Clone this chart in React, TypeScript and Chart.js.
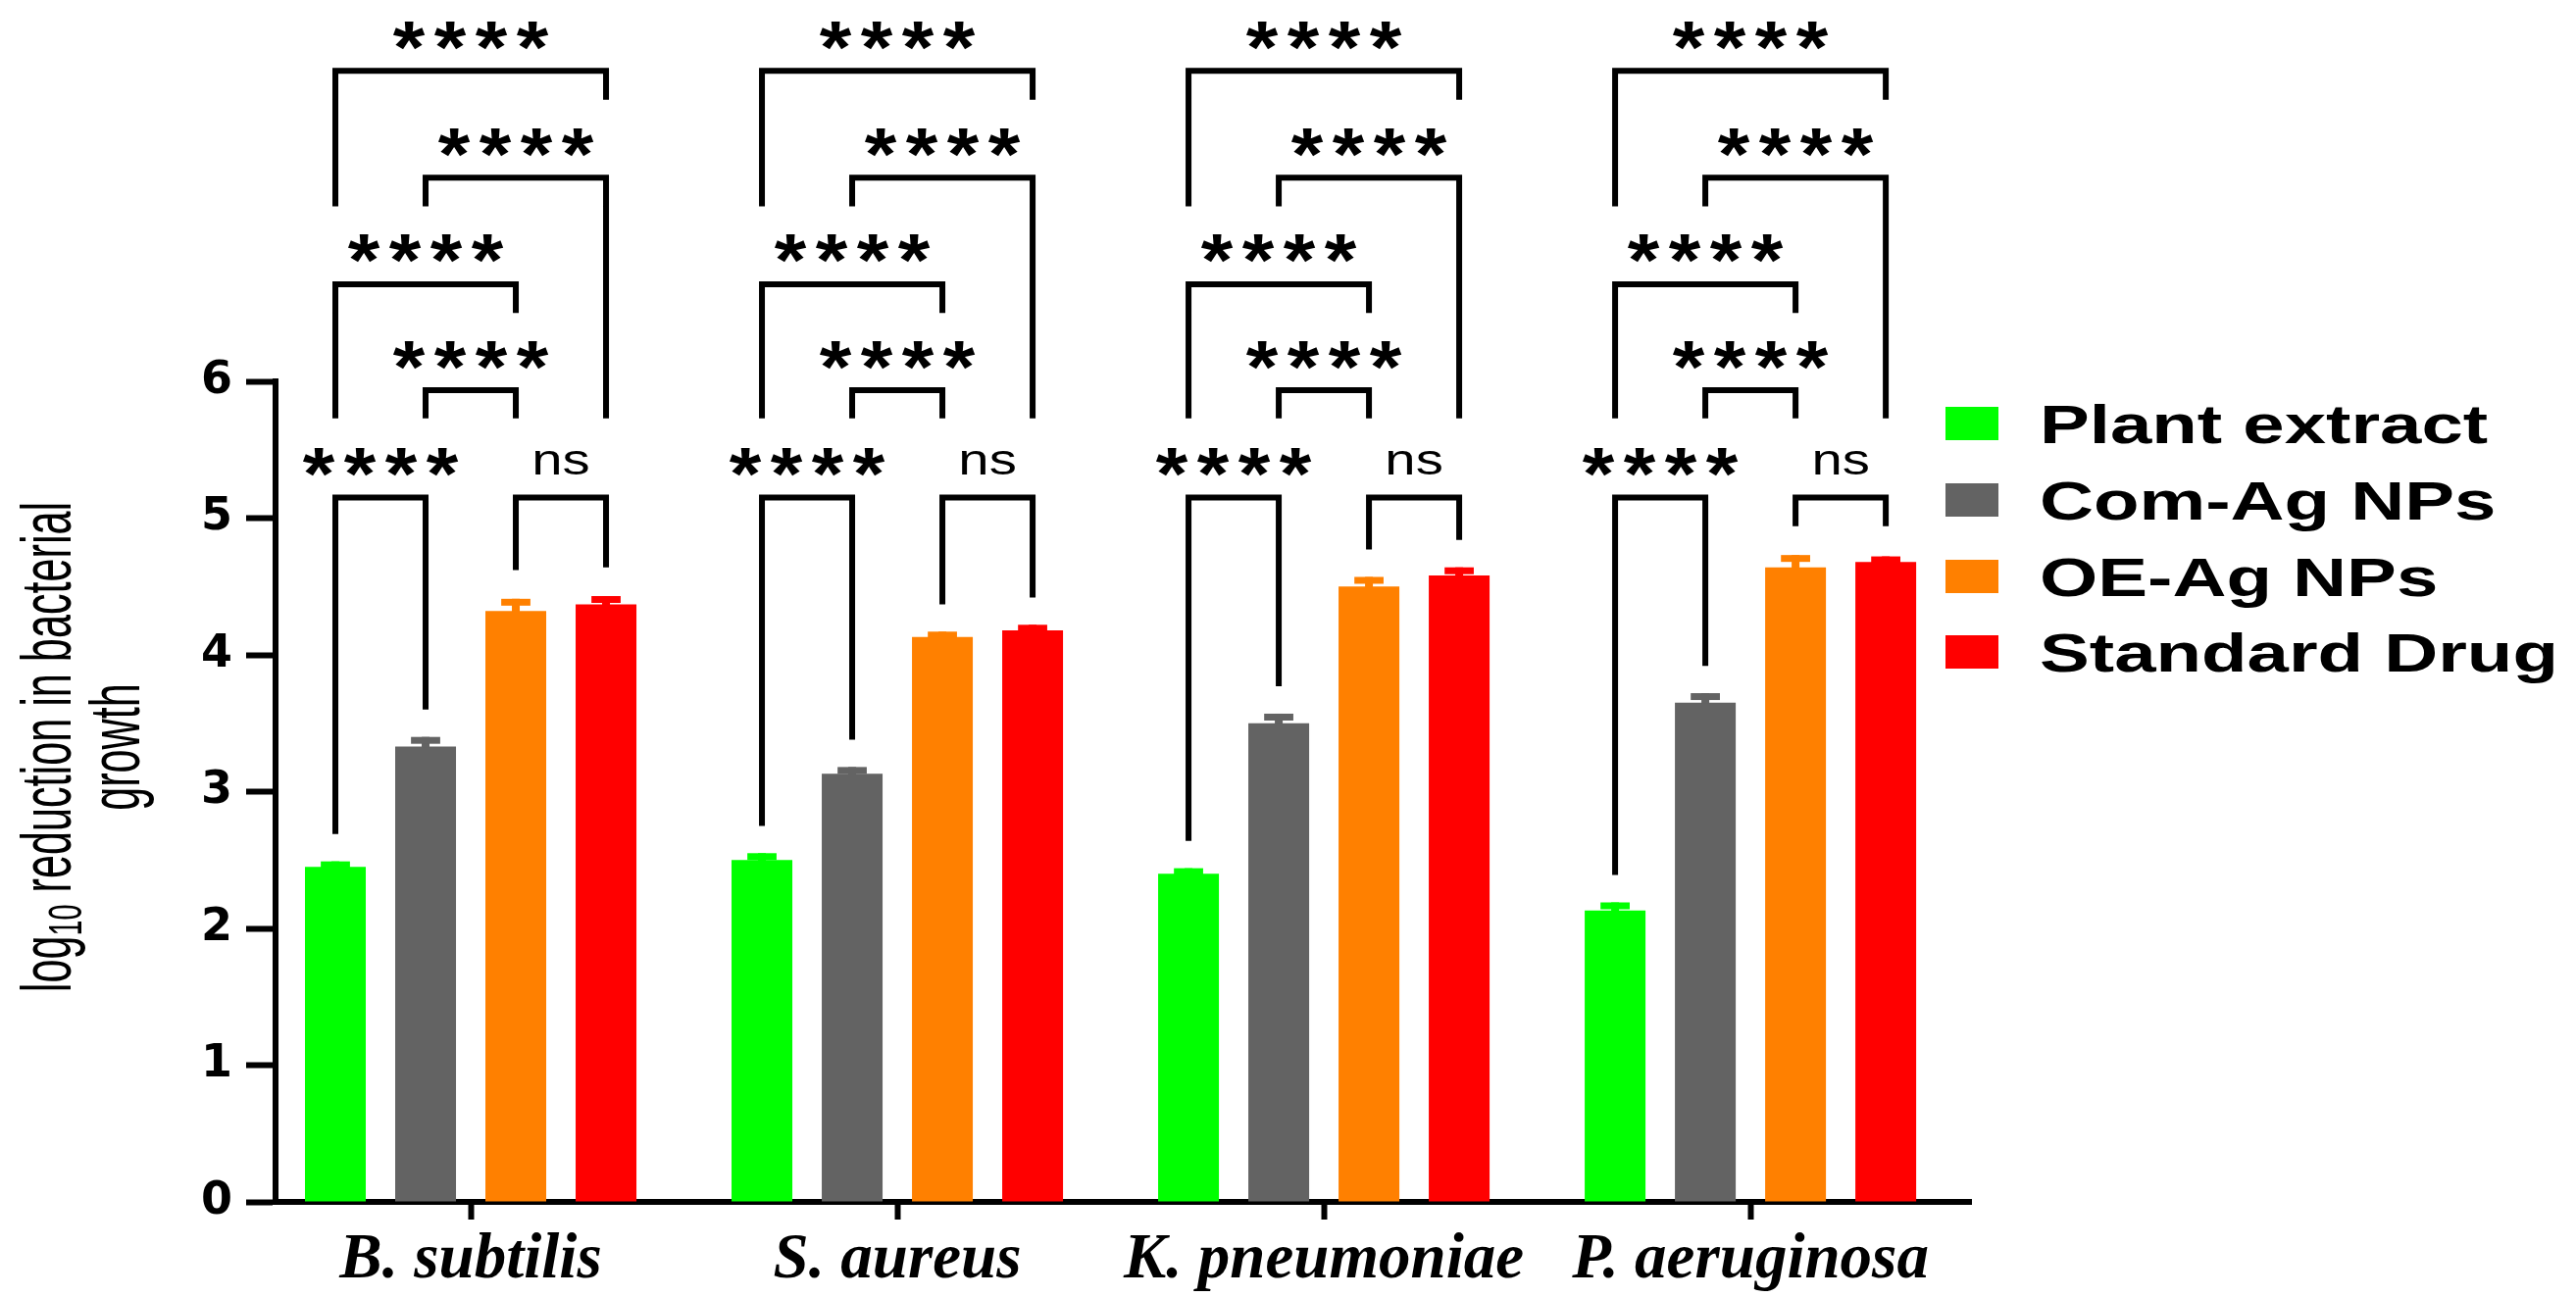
import React, { useEffect, useRef } from 'react';
import { Chart, registerables } from 'chart.js';

Chart.register(...registerables);

// ---------------- data ----------------
const categories = ['B. subtilis', 'S. aureus', 'K. pneumoniae', 'P. aeruginosa'];
const seriesNames = ['Plant extract', 'Com-Ag NPs', 'OE-Ag NPs', 'Standard Drug'];
const seriesColors = ['#00FF00', '#636363', '#FF8000', '#FF0000'];

const plantExtract = [2.45, 2.5, 2.4, 2.13];
const comAgNPs = [3.33, 3.13, 3.5, 3.65];
const oeAgNPs = [4.32, 4.13, 4.5, 4.64];
const standardDrug = [4.37, 4.18, 4.58, 4.68];

const plantExtractErr = [0.04, 0.05, 0.04, 0.06];
const comAgNPsErr = [0.07, 0.05, 0.07, 0.07];
const oeAgNPsErr = [0.09, 0.04, 0.07, 0.09];
const standardDrugErr = [0.06, 0.04, 0.06, 0.04];

const yTickValues = [0, 1, 2, 3, 4, 5, 6];

// significance brackets (series index from -> to), label, height (y units)
const bracketFrom = [0, 2, 1, 0, 1, 0];
const bracketTo = [1, 3, 2, 2, 3, 3];
const bracketLabels = ['****', 'ns', '****', '****', '****', '****'];
const bracketHeights = [5.15, 5.15, 5.935, 6.71, 7.49, 8.27];
// leg ends of the upper brackets (same for every species)
const bracketFromEnd = [null, null, 5.73, 5.73, 7.28, 7.28];
const bracketToEnd = [null, null, 5.73, 6.5, 5.73, 8.06];
// leg ends of the two lowest brackets, per species
const plantVsComFromEnd = [2.69, 2.75, 2.64, 2.39];
const plantVsComToEnd = [3.6, 3.38, 3.77, 3.92];
const oeVsStdFromEnd = [4.62, 4.37, 4.77, 4.94];
const oeVsStdToEnd = [4.64, 4.42, 4.84, 4.94];

// ---------------- layout ----------------
const W = 2627;
const H = 1323;
const AXIS_LEFT = 281;
const AXIS_RIGHT = 2010;
const AXIS_TOP = 389;
const AXIS_BOTTOM = 1226;
const X_MIN = -0.4575;
const X_MAX = 3.517;

const seriesValues = [plantExtract, comAgNPs, oeAgNPs, standardDrug];
const seriesErrors = [plantExtractErr, comAgNPsErr, oeAgNPsErr, standardDrugErr];

function drawStretched(ctx: CanvasRenderingContext2D, text: string, x: number, y: number, sx: number) {
  ctx.save();
  ctx.translate(x, y);
  ctx.scale(sx, 1);
  ctx.fillText(text, 0, 0);
  ctx.restore();
}

const errorBarPlugin = {
  id: 'errorBars',
  afterDatasetsDraw(chart: any) {
    const ctx: CanvasRenderingContext2D = chart.ctx;
    const y = chart.scales.y;
    chart.data.datasets.forEach((ds: any, i: number) => {
      const meta = chart.getDatasetMeta(i);
      meta.data.forEach((bar: any, j: number) => {
        const v = seriesValues[i][j];
        const top = y.getPixelForValue(v + seriesErrors[i][j]);
        const base = y.getPixelForValue(v);
        const w = bar.width * 0.48;
        ctx.save();
        ctx.fillStyle = ds.backgroundColor;
        ctx.fillRect(bar.x - 4, top, 8, base - top + 1);
        ctx.fillRect(bar.x - w / 2, top, w, 7);
        ctx.restore();
      });
    });
  },
};

const bracketPlugin = {
  id: 'brackets',
  afterDatasetsDraw(chart: any) {
    const ctx: CanvasRenderingContext2D = chart.ctx;
    const y = chart.scales.y;
    ctx.save();
    ctx.strokeStyle = '#000';
    ctx.fillStyle = '#000';
    ctx.lineWidth = 6;
    ctx.lineJoin = 'miter';
    ctx.lineCap = 'butt';
    categories.forEach((_c, g) => {
      bracketFrom.forEach((a, k) => {
        const b = bracketTo[k];
        const xa = chart.getDatasetMeta(a).data[g].x;
        const xb = chart.getDatasetMeta(b).data[g].x;
        let ea: number, eb: number;
        if (k === 0) {
          ea = plantVsComFromEnd[g];
          eb = plantVsComToEnd[g];
        } else if (k === 1) {
          ea = oeVsStdFromEnd[g];
          eb = oeVsStdToEnd[g];
        } else {
          ea = bracketFromEnd[k] as number;
          eb = bracketToEnd[k] as number;
        }
        const yl = y.getPixelForValue(bracketHeights[k]);
        ctx.beginPath();
        ctx.moveTo(xa, y.getPixelForValue(ea));
        ctx.lineTo(xa, yl);
        ctx.lineTo(xb, yl);
        ctx.lineTo(xb, y.getPixelForValue(eb));
        ctx.stroke();

        const label = bracketLabels[k];
        const cx = (xa + xb) / 2;
        const cy = yl - 36;
        ctx.textAlign = 'center';
        ctx.textBaseline = 'alphabetic';
        if (label === 'ns') {
          ctx.font = '45px "Liberation Sans", Arial, sans-serif';
          const m = ctx.measureText(label);
          const off = (m.actualBoundingBoxAscent - m.actualBoundingBoxDescent) / 2;
          drawStretched(ctx, label, cx, cy + off, 1.25);
        } else {
          ctx.font = 'bold 76px "Liberation Sans", Arial, sans-serif';
          const m = ctx.measureText('*');
          const off = (m.actualBoundingBoxAscent - m.actualBoundingBoxDescent) / 2;
          const step = 42;
          for (let s = 0; s < label.length; s++) {
            drawStretched(ctx, '*', cx + (s - (label.length - 1) / 2) * step, cy + off, 1.1);
          }
        }
      });
    });
    ctx.restore();
  },
};

const legendPlugin = {
  id: 'sideLegend',
  afterDraw(chart: any) {
    const ctx: CanvasRenderingContext2D = chart.ctx;
    const boxX = 1984;
    const textX = 2080;
    const rows = [432, 510, 588, 665];
    ctx.save();
    seriesNames.forEach((name, i) => {
      const cy = rows[i];
      ctx.fillStyle = seriesColors[i];
      ctx.fillRect(boxX, cy - 17, 54, 34);
      ctx.fillStyle = '#000';
      ctx.font = 'bold 56px "Liberation Sans", Arial, sans-serif';
      ctx.textAlign = 'left';
      ctx.textBaseline = 'alphabetic';
      drawStretched(ctx, name, textX, cy + (0.716 * 56) / 2, 1.36);
    });
    ctx.restore();
  },
};

const yTitlePlugin = {
  id: 'yTitle',
  afterDraw(chart: any) {
    const ctx: CanvasRenderingContext2D = chart.ctx;
    const cy = 762;
    const sx = 0.6;
    const mainFont = '72px "Liberation Sans", Arial, sans-serif';
    const subFont = '48px "Liberation Sans", Arial, sans-serif';
    ctx.save();
    ctx.fillStyle = '#000';
    ctx.textBaseline = 'middle';
    ctx.textAlign = 'left';
    const p1 = 'log';
    const p2 = '10';
    const p3 = ' reduction in bacterial';
    ctx.font = mainFont;
    const w1 = ctx.measureText(p1).width;
    const w3 = ctx.measureText(p3).width;
    ctx.font = subFont;
    const w2 = ctx.measureText(p2).width;
    const total = w1 + w2 + w3;
    ctx.save();
    ctx.translate(52, cy);
    ctx.rotate(-Math.PI / 2);
    ctx.scale(sx, 1);
    let x = -total / 2;
    ctx.font = mainFont;
    ctx.fillText(p1, x, 0);
    x += w1;
    ctx.font = subFont;
    ctx.fillText(p2, x, 18);
    x += w2;
    ctx.font = mainFont;
    ctx.fillText(p3, x, 0);
    ctx.restore();
    ctx.save();
    ctx.translate(122, cy);
    ctx.rotate(-Math.PI / 2);
    ctx.scale(sx, 1);
    ctx.font = mainFont;
    ctx.textAlign = 'center';
    ctx.fillText('growth', 0, 0);
    ctx.restore();
    ctx.restore();
  },
};

export default function App() {
  const ref = useRef<HTMLCanvasElement>(null);
  useEffect(() => {
    document.body.style.margin = '0';
    const datasets = seriesNames.map((name, i) => ({
      label: name,
      data: seriesValues[i].map((v, j) => ({ x: j, y: v })),
      backgroundColor: seriesColors[i],
      borderWidth: 0,
      categoryPercentage: 0.846,
      barPercentage: 0.674,
    }));
    const chart = new Chart(ref.current as HTMLCanvasElement, {
      type: 'bar',
      data: { datasets },
      plugins: [errorBarPlugin, bracketPlugin, legendPlugin, yTitlePlugin],
      options: {
        responsive: false,
        animation: false,
        devicePixelRatio: 1,
        layout: { padding: { left: 0, top: AXIS_TOP, right: W - AXIS_RIGHT, bottom: 0 } },
        plugins: { legend: { display: false }, tooltip: { enabled: false }, title: { display: false } },
        scales: {
          x: {
            type: 'linear',
            min: X_MIN,
            max: X_MAX,
            bounds: 'data',
            offset: false,
            afterBuildTicks: (s: any) => {
              s.ticks = categories.map((_c, i) => ({ value: i }));
            },
            afterFit: (s: any) => {
              s.height = H - AXIS_BOTTOM;
            },
            ticks: {
              autoSkip: false,
              maxRotation: 0,
              padding: 3,
              color: '#000',
              font: { family: '"Liberation Serif", "Times New Roman", serif', size: 65, weight: 'bold', style: 'italic' },
              callback: (v: any) => categories[v] ?? '',
            },
            grid: {
              offset: false,
              drawOnChartArea: false,
              drawTicks: true,
              tickLength: 18,
              tickWidth: 6,
              tickColor: '#000',
              color: '#000',
            },
            border: { display: true, color: '#000', width: 6 },
          },
          y: {
            min: 0,
            max: 6,
            afterBuildTicks: (s: any) => {
              s.ticks = yTickValues.map((v) => ({ value: v }));
            },
            afterFit: (s: any) => {
              s.width = AXIS_LEFT;
            },
            ticks: {
              padding: 14,
              color: '#000',
              font: { family: '"DejaVu Sans", sans-serif', size: 46, weight: 'bold' },
            },
            grid: {
              drawOnChartArea: false,
              drawTicks: true,
              tickLength: 30,
              tickWidth: 6,
              tickColor: '#000',
              color: '#000',
            },
            border: { display: true, color: '#000', width: 6 },
          },
        },
      } as any,
    });
    return () => chart.destroy();
  }, []);
  return (
    <div style={{ width: W, height: H, background: '#fff', overflow: 'hidden' }}>
      <canvas ref={ref} width={W} height={H} style={{ display: 'block' }} />
    </div>
  );
}
